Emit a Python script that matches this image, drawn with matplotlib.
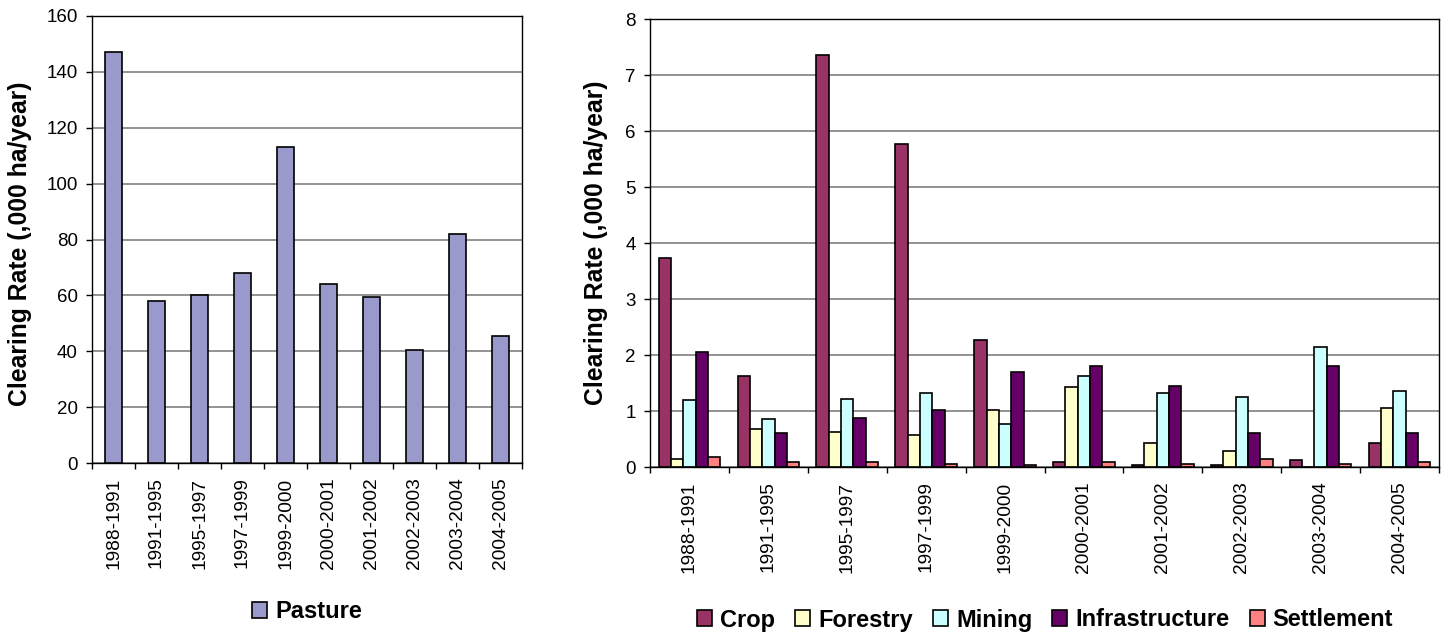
import numpy as np
import matplotlib
matplotlib.use('Agg')
import matplotlib.pyplot as plt

plt.rcParams['font.family'] = ['Liberation Sans', 'DejaVu Sans']

periods = ['1988-1991', '1991-1995', '1995-1997', '1997-1999', '1999-2000',
           '2000-2001', '2001-2002', '2002-2003', '2003-2004', '2004-2005']

pasture = [147, 58, 60, 68, 113, 64, 59.5, 40.5, 82, 45.5]

crop = [3.73, 1.62, 7.36, 5.76, 2.26, 0.09, 0.03, 0.03, 0.12, 0.43]
forestry = [0.14, 0.68, 0.62, 0.57, 1.02, 1.42, 0.43, 0.29, 0.0, 1.05]
mining = [1.19, 0.86, 1.22, 1.33, 0.77, 1.62, 1.33, 1.25, 2.15, 1.36]
infrastructure = [2.06, 0.60, 0.88, 1.02, 1.70, 1.81, 1.45, 0.60, 1.81, 0.60]
settlement = [0.17, 0.09, 0.09, 0.06, 0.03, 0.09, 0.06, 0.15, 0.06, 0.09]

series_names = ['Crop', 'Forestry', 'Mining', 'Infrastructure', 'Settlement']
series_colors = ['#993366', '#FFFFCC', '#CCFFFF', '#660066', '#FF8080']

W, H = 1448, 634
fig = plt.figure(figsize=(W / 100, H / 100), dpi=100)


def px_axes(left, top, right, bottom):
    return fig.add_axes([left / W, 1 - bottom / H, (right - left) / W, (bottom - top) / H])


def style_axes(ax, ymax, ystep):
    n = len(periods)
    ax.set_xlim(0, n)
    ax.set_ylim(0, ymax)
    ax.set_yticks(np.arange(0, ymax + ystep / 2, ystep))
    ax.set_xticks(np.arange(n) + 0.5)
    ax.set_xticklabels(periods, rotation=90, fontsize=13.8)
    ax.set_xticks(np.arange(n + 1), minor=True)
    ax.tick_params(axis='x', which='major', length=0, pad=10.5)
    ax.tick_params(axis='x', which='minor', length=4.3, width=1, direction='out')
    ax.tick_params(axis='y', length=4.3, width=1, direction='out', labelsize=13.5, pad=6)
    ax.yaxis.grid(True, color='#808080', lw=1.2)
    ax.set_axisbelow(True)
    for s in ax.spines.values():
        s.set_color('black')
        s.set_linewidth(1)
    ax.set_ylabel('Clearing Rate (,000 ha/year)', fontsize=17.8, fontweight='bold')


leg_kw = dict(loc='center', frameon=False, prop={'size': 17, 'weight': 'bold'},
              handlelength=0.64, handleheight=0.64, handletextpad=0.34,
              borderpad=0, borderaxespad=0)

# left chart: pasture
ax1 = px_axes(92, 16, 522, 463)
x = np.arange(len(periods)) + 0.5
ax1.bar(x, pasture, width=0.4, color='#9999CC', edgecolor='black', lw=1.2, label='Pasture')
style_axes(ax1, 160, 20)
ax1.yaxis.set_label_coords(-0.14, 0.49)
ax1.legend(bbox_to_anchor=(307 / W, 1 - 612 / H), bbox_transform=fig.transFigure, **leg_kw)

# right chart: other land uses
ax2 = px_axes(650, 19, 1439, 467)
bw = 0.156
all_series = [crop, forestry, mining, infrastructure, settlement]
for i, (vals, name, col) in enumerate(zip(all_series, series_names, series_colors)):
    offs = (i - 2) * bw
    ax2.bar(x + offs, vals, width=bw, color=col, edgecolor='black', lw=1.2, label=name)
style_axes(ax2, 8, 1)
ax2.yaxis.set_label_coords(-0.053, 0.5)
ax2.legend(bbox_to_anchor=(1045 / W, 1 - 620 / H), bbox_transform=fig.transFigure,
           ncol=5, columnspacing=0.85, **leg_kw)

fig.savefig('out.png', dpi=100)
